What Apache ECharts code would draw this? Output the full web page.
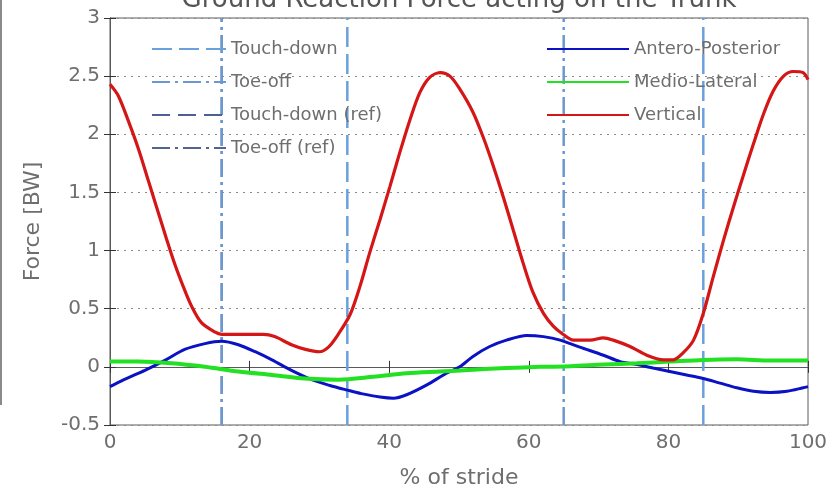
<!DOCTYPE html>
<html><head><meta charset="utf-8">
<script src="https://cdn.jsdelivr.net/npm/echarts@6/dist/echarts.min.js"></script>
<style>html,body{margin:0;padding:0;background:#fff}#c{width:831px;height:494px}</style>
</head><body><div id="c"></div>
<script>
const titleText = 'Ground Reaction Force acting on the Trunk';
const xTicks = [0, 20, 40, 60, 80, 100];
const yTicks = [-0.5, 0, 0.5, 1, 1.5, 2, 2.5, 3];

const vertX = [0,1.2,2.6,4.1,5.5,6.9,8.1,9.3,10.5,11.7,13.1,15,16,18,20,22,23.6,26,28,30,31.3,32.7,34.4,35.8,37.2,38.7,40.1,41.5,43,44.4,45.8,47.3,48.7,50.1,52,53.5,54.9,56.4,57.8,59.2,60.6,62.1,63.5,64.9,66.4,68.8,70.7,72.1,74.5,76.9,79.3,80.7,82.1,83.6,85,86.4,87.9,89.3,90.7,92.2,93.6,95,96.5,97.9,99.3,100];
const vertY = [2.43,2.33,2.12,1.87,1.60,1.33,1.10,0.88,0.69,0.52,0.38,0.30,0.28,0.28,0.28,0.28,0.26,0.19,0.15,0.13,0.17,0.28,0.45,0.69,0.98,1.27,1.55,1.84,2.13,2.36,2.49,2.53,2.50,2.39,2.19,1.97,1.73,1.45,1.17,0.89,0.64,0.46,0.35,0.28,0.23,0.23,0.25,0.23,0.175,0.10,0.06,0.06,0.12,0.23,0.46,0.77,1.09,1.37,1.64,1.92,2.17,2.37,2.50,2.54,2.53,2.47];

const apX = [0,2,5,8,10.7,13.6,16,18.4,20.8,23.2,26,28.9,31.5,34,36,38.7,40.6,42.5,45.4,48.2,50.1,52,54.4,56.8,59.7,62.1,64.5,67.3,70.7,73.1,75.5,77.8,80.2,82.6,85,87.4,89.8,92.2,94.6,97,99.3,100];
const apY = [-0.17,-0.11,-0.03,0.06,0.15,0.20,0.22,0.19,0.13,0.06,-0.03,-0.11,-0.16,-0.20,-0.23,-0.26,-0.27,-0.24,-0.155,-0.055,0,0.09,0.175,0.23,0.27,0.26,0.23,0.17,0.10,0.045,0.02,-0.01,-0.04,-0.07,-0.10,-0.14,-0.18,-0.21,-0.22,-0.21,-0.18,-0.17];

const mlX = [0,4,8.8,13.6,18.4,23.2,27.9,32.7,37.7,42.5,47.3,52,56.8,61.6,66,70.7,75.5,80.2,85,89.8,94.6,100];
const mlY = [0.045,0.045,0.03,0,-0.04,-0.07,-0.1,-0.11,-0.085,-0.055,-0.04,-0.025,-0.01,0,0.005,0.02,0.03,0.045,0.06,0.065,0.055,0.055];

const touchDown = [34, 85];
const toeOff = [16, 65];
const touchDownRef = [];
const toeOffRef = [16];

const FONT = 'DejaVu Sans';
const TXT = '#6e6e6e';
const yMin = yTicks[0], yMax = yTicks[yTicks.length - 1];

function zip(xs, ys) { return xs.map((x, i) => [x, ys[i]]); }
function vlineSeries(name, xs, color, type, width, z) {
  if (!xs.length) {
    return [{ name, type: 'line', data: [], symbol: 'none', lineStyle: { color, type, width }, itemStyle: { color }, z }];
  }
  return xs.map(x => ({
    name, type: 'line', symbol: 'none', silent: true, z,
    data: [[x, yMin], [x, yMax]],
    lineStyle: { color, type, width }, itemStyle: { color }
  }));
}

const series = [].concat(
  vlineSeries('Touch-down (ref)', touchDownRef, '#4d5f94', [18, 8], 2, 1),
  vlineSeries('Toe-off (ref)', toeOffRef, '#55638f', [18, 5, 3, 5], 2, 1),
  vlineSeries('Touch-down', touchDown, '#6aa0dc', [20, 7], 2.5, 2),
  vlineSeries('Toe-off', toeOff, '#6b98d2', [18, 5, 3, 5], 2.5, 2),
  [
    { name: 'Antero-Posterior', type: 'line', symbol: 'none', smooth: 0.3, data: zip(apX, apY), lineStyle: { color: '#0a12c4', width: 3 }, itemStyle: { color: '#0a12c4' }, z: 3 },
    { name: 'Medio-Lateral', type: 'line', symbol: 'none', smooth: 0.3, data: zip(mlX, mlY), lineStyle: { color: '#22e022', width: 4 }, itemStyle: { color: '#22e022' }, z: 3 },
    { name: 'Vertical', type: 'line', symbol: 'none', smooth: 0.3, data: zip(vertX, vertY), lineStyle: { color: '#d41616', width: 3.2 }, itemStyle: { color: '#d41616' }, z: 4 }
  ]
);

const legendText = { color: TXT, fontFamily: FONT, fontSize: 18, lineHeight: 18 };
const chart = echarts.init(document.getElementById('c'), null, { renderer: 'canvas' });
chart.setOption({
  animation: false,
  backgroundColor: '#fff',
  grid: { left: 110, right: 23, top: 18, bottom: 69, show: true, borderColor: '#5a5a5a', borderWidth: 1 },
  legend: [
    { data: ['Touch-down', 'Toe-off', 'Touch-down (ref)', 'Toe-off (ref)'], orient: 'vertical', left: 146, top: 35,
      itemWidth: 74, itemHeight: 14, itemGap: 15, textStyle: legendText, itemStyle: { opacity: 0 } },
    { data: ['Antero-Posterior', 'Medio-Lateral', 'Vertical'], orient: 'vertical', left: 541, top: 35,
      itemWidth: 82, itemHeight: 14, itemGap: 15, textStyle: legendText, itemStyle: { opacity: 0 } }
  ],
  xAxis: [
    { type: 'value', min: xTicks[0], max: xTicks[xTicks.length - 1], interval: 20, position: 'bottom',
      name: '% of stride', nameLocation: 'middle', nameGap: 42,
      nameTextStyle: { color: TXT, fontFamily: FONT, fontSize: 22 },
      axisLine: { show: true, lineStyle: { color: '#5a5a5a' } },
      axisTick: { show: true, inside: true, length: 6, lineStyle: { color: '#333' } },
      axisLabel: { color: TXT, fontFamily: FONT, fontSize: 20, margin: 8 },
      splitLine: { show: false } },
    { type: 'value', min: xTicks[0], max: xTicks[xTicks.length - 1], interval: 20, position: 'top',
      axisLine: { show: true, lineStyle: { color: '#5a5a5a' } },
      axisTick: { show: true, inside: true, length: 6, lineStyle: { color: '#333' } },
      axisLabel: { show: false }, splitLine: { show: false } }
  ],
  yAxis: [
    { type: 'value', min: yMin, max: yMax, interval: 0.5, position: 'left',
      name: 'Force [BW]', nameLocation: 'middle', nameGap: 66,
      nameTextStyle: { color: TXT, fontFamily: FONT, fontSize: 22 },
      axisLine: { show: true, lineStyle: { color: '#5a5a5a' } },
      axisTick: { show: true, inside: true, length: 6, lineStyle: { color: '#333' } },
      axisLabel: { color: TXT, fontFamily: FONT, fontSize: 20, margin: 10 },
      splitLine: { show: true, lineStyle: { color: '#8a8a8a', type: [2, 5], width: 1 } } },
    { type: 'value', min: yMin, max: yMax, interval: 0.5, position: 'right',
      axisLine: { show: true, lineStyle: { color: '#5a5a5a' } },
      axisTick: { show: true, inside: true, length: 6, lineStyle: { color: '#333' } },
      axisLabel: { show: false }, splitLine: { show: false } }
  ],
  graphic: [
    { type: 'text', x: 459, y: 0, style: { text: titleText, fill: '#555', font: '26px "DejaVu Sans"', align: 'center', verticalAlign: 'middle' } },
    { type: 'line', shape: { x1: 1, y1: 0, x2: 1, y2: 405 }, style: { stroke: '#8a8a8a', lineWidth: 2 } }
  ],
  series: series
});
</script></body></html>
